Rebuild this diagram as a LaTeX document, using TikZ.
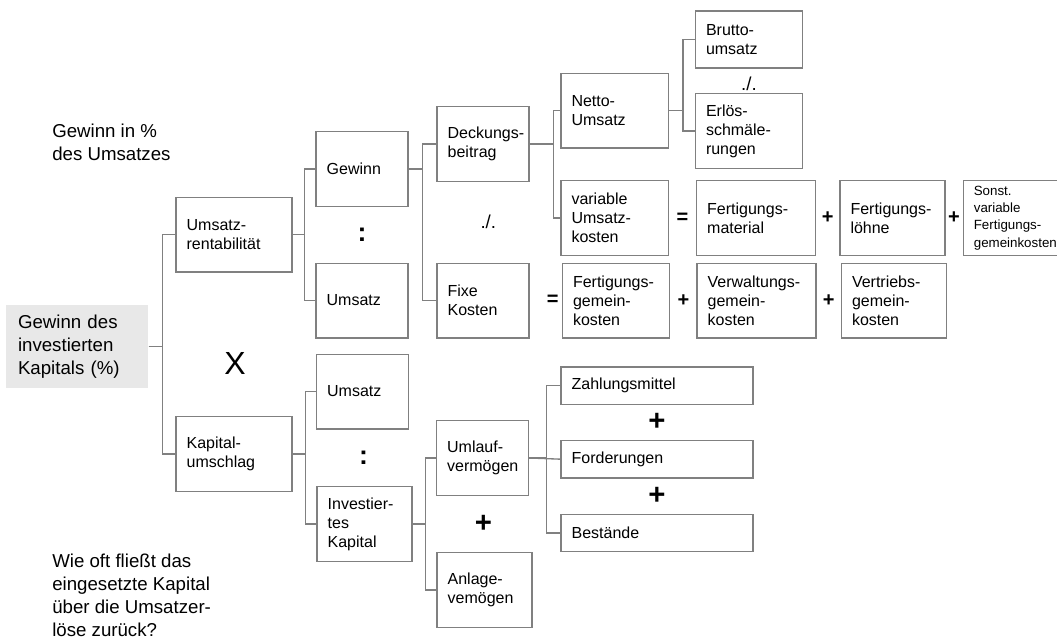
\documentclass[tikz,border=0pt]{standalone}
\usepackage{fontspec}
\setmainfont{Liberation Sans}
\usepackage{tikz}
\usetikzlibrary{positioning}
\hyphenpenalty=10000
\exhyphenpenalty=10000
\tikzstyle{box3}=[draw=black!50,line width=1pt,inner xsep=8pt,inner ysep=1pt,minimum height=56pt,text width=53pt,align=left,font=\fontsize{12}{14.25}\selectfont]

\begin{document}
\begin{tikzpicture}[x=0.75pt,y=-0.75pt]

\tikzstyle{box2}=[box3,text width=55.25pt]
\tikzstyle{box4}=[box3,text width=64.5pt]
\tikzstyle{box5}=[box3,text width=71pt]
\tikzstyle{box6}=[box3,text width=73.25pt]
\tikzstyle{box7}=[box3,text width=62.75pt]
\tikzstyle{box8}=[box3,text width=128pt,minimum height=28pt]
\tikzstyle{link}=[draw=black!50,line width=1pt]
\tikzstyle{op}=[inner sep=0pt,font=\fontsize{15}{15}\selectfont\bfseries]
\tikzstyle{bigop}=[inner sep=0pt,font=\fontsize{22}{22}\selectfont\bfseries]
\tikzstyle{minus}=[inner sep=0pt,font=\fontsize{14}{14}\selectfont]
\tikzstyle{note}=[align=left,inner sep=0pt,font=\fontsize{14}{17.25}\selectfont]

\useasboundingbox (0,0) rectangle (1057,639);

% first two levels
\node (root) [box3, fill=black!9, draw=none, inner xsep=9pt, text width=88.5pt, minimum height=62.25pt, font=\fontsize{14}{17.25}\selectfont] at (77,346.5) {Gewinn des\\investierten\\Kapitals (\%)};
\node (ur) [box5] at (234,234.5) {Umsatz-\\rentabilität};
\node (ku) [box5] at (234,454) {Kapital-\\umschlag};

\node (gew)  [box3] at (362,169)   {Gewinn};
\node (ums1) [box3] at (362,300.5) {Umsatz};
\node (ums2) [box3] at (362.5,391.5) {Umsatz};
\node (ik)   [box2] at (364.5,524) {Investier-\\tes\\Kapital};

% Gewinn
\node (db) [box3] at (483,144)   {Deckungs-\\beitrag};
\node (fk) [box3] at (483,300.5) {Fixe\\Kosten};
\node (nu) [box4] at (614.5,110.5) {Netto-\\Umsatz};
\node (vu) [box4] at (614.5,218) {variable\\Umsatz-\\kosten};
\node (bu) [box4, minimum height=42.75pt] at (749,39.5) {Brutto-\\umsatz};
\node (es) [box4] at (749,131) {Erlös-\\schmäle-\\rungen};

\node (fm) [box6, right=20.25pt of vu] {Fertigungs-\\material};
\node (fl) [box7, right=17.25pt of fm] {Fertigungs-\\löhne};
\node (sv) [box3, text width=57.5pt, font=\fontsize{10}{13}\selectfont, right=12.75pt of fl] {Sonst.\\variable\\Fertigungs-\\gemeinkosten};

\node (fg) [box4, right=24pt of fk] {Fertigungs-\\gemein-\\kosten};
\node (vw) [box6, right=19.5pt of fg] {Verwaltungs-\\gemein-\\kosten};
\node (vt) [box7, right=18pt of vw] {Vertriebs-\\gemein-\\kosten};

% Kapital
\node (ul) [box3] at (482.5,458) {Umlauf-\\vermögen};
\node (av) [box2] at (484.5,590) {Anlage-\\vemögen};
\node (zm) [box8] at (657,385.5) {Zahlungsmittel};
\node (fo) [box8, below=26.25pt of zm] {Forderungen};
\node (be) [box8, below=26.25pt of fo] {Bestände};

% texts
\node (lbl1) [note, anchor=west] at (52,142.5) {Gewinn in \%\\des Umsatzes};
\node (lbl2) [note, anchor=west] at (52,595) {Wie oft fließt das\\eingesetzte Kapital\\über die Umsatzer-\\löse zurück?};
\node (mal) [inner sep=0pt, font=\fontsize{24}{24}\selectfont] at (235,363.5) {X};

% operators
\path (gew.south) -- node[inner sep=0pt, font=\fontsize{20}{20}\selectfont\bfseries] (c1) {:} (ums1.north);
\path (ums2.south) -- node[inner sep=0pt, font=\fontsize{20}{20}\selectfont\bfseries] (c2) {:} (ik.north);
\path (db.south) -- node[minus, xshift=4pt] (m1) {./.} (fk.north);
\path (bu.south) -- node[minus, yshift=-2pt] (m2) {./.} (es.north);
\path (vu.east) -- node[op] (e1) {=} (fm.west);
\path (fm.east) -- node[op] (p1) {+} (fl.west);
\path (fl.east) -- node[op] (p2) {+} (sv.west);
\path (fk.east) -- node[op, pos=0.72] (e2) {=} (fg.west);
\path (fg.east) -- node[op] (p3) {+} (vw.west);
\path (vw.east) -- node[op] (p4) {+} (vt.west);
\path (ul.south) -- node[bigop] (p5) {+} (av.north);
\path (zm.south) -- node[bigop] (p6) {+} (fo.north);
\path (fo.south) -- node[bigop] (p7) {+} (be.north);

% connectors
\draw[link] (root.east) -- ++(14,0) |- (ur.west);
\draw[link] (root.east) -- ++(14,0) |- (ku.west);
\draw[link] (ur.east) -- ++(12,0) |- (gew.west);
\draw[link] (ur.east) -- ++(12,0) |- (ums1.west);
\draw[link] (ku.east) -- ++(13,0) |- (ums2.west);
\draw[link] (ku.east) -- ++(13,0) |- (ik.west);
\draw[link] (gew.east) -- ++(14,0) |- (db.west);
\draw[link] (gew.east) -- ++(14,0) |- (fk.west);
\draw[link] (db.east) -- ++(24,0) |- (nu.west);
\draw[link] (db.east) -- ++(24,0) |- (vu.west);
\draw[link] (nu.east) -- ++(14,0) |- (bu.west);
\draw[link] (nu.east) -- ++(14,0) |- (es.west);
\draw[link] (ik.east) -- ++(13,0) |- (ul.west);
\draw[link] (ik.east) -- ++(13,0) |- (av.west);
\draw[link] (ul.east) -- ++(17,0) |- (zm.west);
\draw[link] (ul.east) -- (fo.west);
\draw[link] (ul.east) -- ++(17,0) |- (be.west);

\end{tikzpicture}
\end{document}
